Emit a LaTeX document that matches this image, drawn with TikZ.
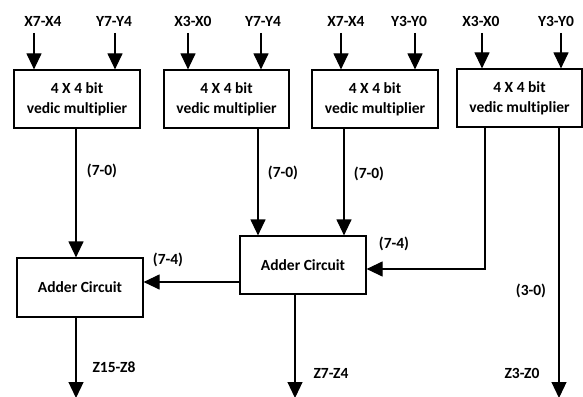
\documentclass[tikz,border=0pt]{standalone}
\usepackage{fontspec}
\setmainfont{Carlito}[Ligatures={NoCommon}]
\usetikzlibrary{arrows.meta}
\begin{document}
\begin{tikzpicture}[x=1pt,y=-1pt,
  every node/.style={font=\bfseries\fontsize{15.5}{20}\selectfont},
  blk/.style={draw,line width=1.2pt,inner sep=0pt,align=center,minimum height=58pt},
  lbl/.style={anchor=base,inner sep=0pt},
  wire/.style={line width=1.2pt},
  arr/.style={wire,-{Triangle[width=15pt,length=16pt]}}]
\useasboundingbox (0,0) rectangle (583,396);
% multipliers
\node[blk,minimum width=126pt] (m1) at (77,99) {4 X 4 bit\\vedic multiplier};
\node[blk,minimum width=125pt] (m2) at (226.5,99) {4 X 4 bit\\vedic multiplier};
\node[blk,minimum width=126pt] (m3) at (375,99) {4 X 4 bit\\vedic multiplier};
\node[blk,minimum width=125pt] (m4) at (519.5,98) {4 X 4 bit\\vedic multiplier};
% adders
\node[blk,minimum width=126pt,minimum height=59pt] (a1) at (80,287.5) {Adder Circuit};
\node[blk,minimum width=126pt] (a2) at (303,265) {Adder Circuit};
% input labels
\node[lbl] (i1) at (43,27) {X7-X4};
\node[lbl] (i2) at (114,27) {Y7-Y4};
\node[lbl] (i3) at (193,27) {X3-X0};
\node[lbl] (i4) at (263,27) {Y7-Y4};
\node[lbl] (i5) at (346,27) {X7-X4};
\node[lbl] (i6) at (409,27) {Y3-Y0};
\node[lbl] (i7) at (481,27) {X3-X0};
\node[lbl] (i8) at (556,27) {Y3-Y0};
% input arrow starts
\coordinate (s1) at (34,33);
\coordinate (s2) at (115,33);
\coordinate (s3) at (188,33);
\coordinate (s4) at (261,33);
\coordinate (s5) at (341,33);
\coordinate (s6) at (415,33);
\coordinate (s7) at (482,33);
\coordinate (s8) at (561,33);
\foreach \s/\m in {s1/m1,s2/m1,s3/m2,s4/m2,s5/m3,s6/m3,s7/m4,s8/m4}
  \draw[arr] (\s) -- (\s |- \m.north);
% inner connections
\coordinate (p1) at (76,0);
\draw[arr] (p1 |- m1.south) -- (p1 |- a1.north);
\coordinate (p2) at (258,0);
\draw[arr] (p2 |- m2.south) -- (p2 |- a2.north);
\coordinate (p3) at (344,0);
\draw[arr] (p3 |- m3.south) -- (p3 |- a2.north);
\coordinate (p4) at (485,269);
\draw[arr] (p4 |- m4.south) -- (p4) -- (p4 -| a2.east);
\coordinate (p5) at (0,282);
\draw[arr] (p5 -| a2.west) -- (p5 -| a1.east);
% outputs
\coordinate (o1) at (76,398);
\coordinate (o2) at (295,398);
\coordinate (o3) at (559,398);
\draw[arr] (o1 |- a1.south) -- (o1);
\draw[arr] (o2 |- a2.south) -- (o2);
\draw[arr] (o3 |- m4.south) -- (o3);
% labels
\node[lbl] (l1) at (102,175) {(7-0)};
\node[lbl] (l2) at (283,177) {(7-0)};
\node[lbl] (l3) at (369,178) {(7-0)};
\node[lbl] (l4) at (168,264) {(7-4)};
\node[lbl] (l5) at (394,248) {(7-4)};
\node[lbl] (l6) at (531,295) {(3-0)};
\node[lbl] (z1) at (114,372) {Z15-Z8};
\node[lbl] (z2) at (331,378) {Z7-Z4};
\node[lbl] (z3) at (522,378) {Z3-Z0};
\end{tikzpicture}
\end{document}
